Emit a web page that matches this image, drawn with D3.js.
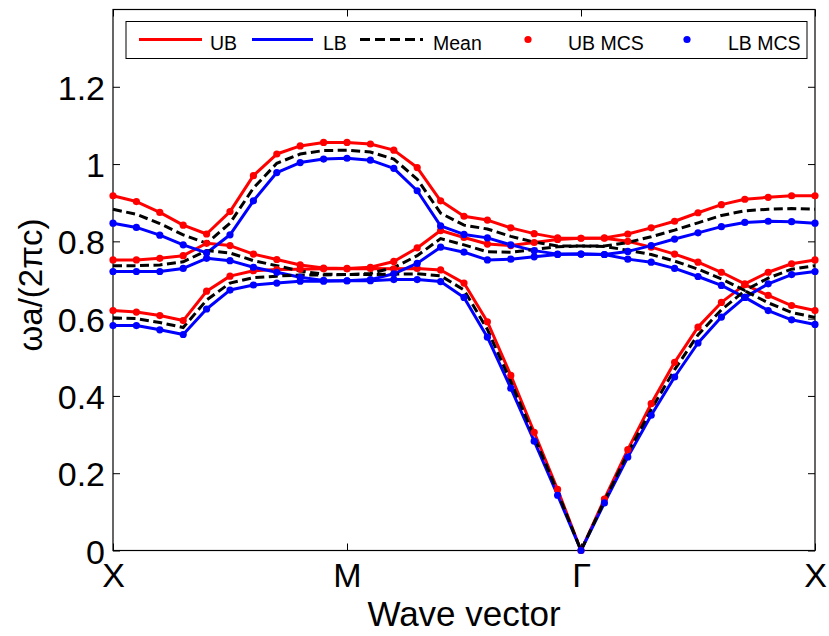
<!DOCTYPE html>
<html>
<head>
<meta charset="utf-8">
<script src="https://cdn.jsdelivr.net/npm/d3@7"></script>
<style>
  html, body { margin: 0; padding: 0; background: #fff; }
  svg { display: block; font-family: "Liberation Sans", Arial, Helvetica, sans-serif; }
</style>
</head>
<body>
<svg id="chart" width="829" height="636"></svg>
<script>
// Path through the Brillouin zone: X -> M -> Gamma -> X, 10 steps per leg
const kIndex = d3.range(31);
const kTickPos = [0, 10, 20, 30];
const kTickLabels = ["X", "M", "\u0393", "X"];
const yTicks = [0, 0.2, 0.4, 0.6, 0.8, 1, 1.2];

// Upper bound (UB) of the three lowest bands, omega*a/(2*pi*c)
const ub1 = [0.621, 0.617, 0.608, 0.595, 0.671, 0.710, 0.724, 0.727, 0.728, 0.729, 0.729,
             0.730, 0.729, 0.730, 0.726, 0.692, 0.592, 0.453, 0.306, 0.158, 0.000,
             0.133, 0.261, 0.380, 0.487, 0.578, 0.642, 0.688, 0.660, 0.634, 0.621];
const ub2 = [0.752, 0.752, 0.756, 0.763, 0.795, 0.789, 0.767, 0.753, 0.739, 0.731, 0.730,
             0.733, 0.748, 0.783, 0.828, 0.810, 0.793, 0.789, 0.797, 0.805, 0.808,
             0.808, 0.800, 0.785, 0.767, 0.746, 0.720, 0.690, 0.720, 0.742, 0.752];
const ub3 = [0.918, 0.903, 0.875, 0.842, 0.819, 0.877, 0.970, 1.026, 1.047, 1.056, 1.056,
             1.052, 1.036, 0.991, 0.905, 0.865, 0.855, 0.835, 0.820, 0.809, 0.808,
             0.809, 0.819, 0.835, 0.852, 0.874, 0.895, 0.909, 0.914, 0.918, 0.918];

// Lower bound (LB)
const lb1 = [0.582, 0.582, 0.571, 0.559, 0.625, 0.674, 0.687, 0.692, 0.697, 0.697, 0.698,
             0.698, 0.701, 0.701, 0.696, 0.655, 0.552, 0.420, 0.283, 0.143, 0.000,
             0.123, 0.242, 0.350, 0.449, 0.537, 0.604, 0.655, 0.621, 0.597, 0.585];
const lb2 = [0.722, 0.722, 0.722, 0.730, 0.756, 0.750, 0.733, 0.720, 0.707, 0.699, 0.698,
             0.701, 0.716, 0.743, 0.785, 0.772, 0.752, 0.754, 0.760, 0.766, 0.767,
             0.766, 0.754, 0.746, 0.730, 0.709, 0.686, 0.655, 0.690, 0.714, 0.722];
const lb3 = [0.847, 0.836, 0.816, 0.791, 0.770, 0.817, 0.905, 0.978, 1.004, 1.013, 1.015,
             1.010, 0.989, 0.931, 0.840, 0.818, 0.809, 0.791, 0.776, 0.767, 0.767,
             0.766, 0.774, 0.789, 0.806, 0.822, 0.838, 0.849, 0.852, 0.851, 0.847];

// Mean of the bounds
const mean1 = [0.602, 0.600, 0.590, 0.577, 0.648, 0.692, 0.706, 0.710, 0.713, 0.713, 0.714,
               0.714, 0.715, 0.716, 0.711, 0.674, 0.572, 0.437, 0.295, 0.151, 0.000,
               0.128, 0.252, 0.365, 0.468, 0.558, 0.623, 0.672, 0.641, 0.616, 0.603];
const mean2 = [0.737, 0.737, 0.739, 0.747, 0.776, 0.770, 0.750, 0.737, 0.723, 0.715, 0.714,
               0.717, 0.732, 0.763, 0.807, 0.791, 0.773, 0.772, 0.779, 0.786, 0.788,
               0.787, 0.777, 0.766, 0.749, 0.728, 0.703, 0.673, 0.705, 0.728, 0.737];
const mean3 = [0.883, 0.870, 0.846, 0.817, 0.795, 0.847, 0.938, 1.002, 1.026, 1.035, 1.036,
               1.031, 1.013, 0.961, 0.873, 0.842, 0.832, 0.813, 0.798, 0.788, 0.788,
               0.788, 0.797, 0.812, 0.829, 0.848, 0.867, 0.879, 0.883, 0.885, 0.883];

const ubBands = [ub1, ub2, ub3];
const lbBands = [lb1, lb2, lb3];
const meanBands = [mean1, mean2, mean3];

const legendLabels = ["UB", "LB", "Mean", "UB MCS", "LB MCS"];

const RED = "#ff0000", BLUE = "#0000ff", BLACK = "#000000";
const LW = 3, DOT_R = 3.6, DASH = "9,4.5";

const svg = d3.select("#chart");
const plotLeft = 113, plotRight = 815, plotTop = 9.5, plotBottom = 550.5;

const x = d3.scaleLinear().domain([0, 30]).range([plotLeft, plotRight]);
const y = d3.scaleLinear().domain([0, 1.4]).range([plotBottom, plotTop]);

const line = d3.line().x((d, i) => x(kIndex[i])).y(d => y(d));

// Axes with inward ticks (box style)
const tickFont = 34;
const gy = svg.append("g").attr("transform", `translate(${plotLeft},0)`)
  .call(d3.axisLeft(y).tickValues(yTicks).tickFormat(d => d3.format("~g")(d))
    .tickSizeInner(-7).tickSizeOuter(0).tickPadding(8));
gy.select(".domain").remove();
gy.selectAll("text").attr("dy", "0.37em").style("font-size", tickFont + "px").attr("fill", "#000");
gy.selectAll("line").attr("stroke", "#000");

const gyr = svg.append("g").attr("transform", `translate(${plotRight},0)`)
  .call(d3.axisRight(y).tickValues(yTicks).tickFormat("").tickSizeInner(-7).tickSizeOuter(0));
gyr.select(".domain").remove();
gyr.selectAll("line").attr("stroke", "#000");

const gx = svg.append("g").attr("transform", `translate(0,${plotBottom})`)
  .call(d3.axisBottom(x).tickValues(kTickPos).tickFormat((d, i) => kTickLabels[i])
    .tickSizeInner(-7).tickSizeOuter(0).tickPadding(12));
gx.select(".domain").remove();
gx.selectAll("text").style("font-size", tickFont + "px").attr("fill", "#000");
gx.selectAll("line").attr("stroke", "#000");

const gxt = svg.append("g").attr("transform", `translate(0,${plotTop})`)
  .call(d3.axisTop(x).tickValues(kTickPos).tickFormat("").tickSizeInner(-7).tickSizeOuter(0));
gxt.select(".domain").remove();
gxt.selectAll("line").attr("stroke", "#000");

// Plot box
svg.append("rect")
  .attr("x", plotLeft).attr("y", plotTop)
  .attr("width", plotRight - plotLeft).attr("height", plotBottom - plotTop)
  .attr("fill", "none").attr("stroke", "#000").attr("stroke-width", 1.2);

// Axis titles
svg.append("text")
  .attr("x", (plotLeft + plotRight) / 2).attr("y", 626)
  .attr("text-anchor", "middle")
  .style("font-size", "35px")
  .text("Wave vector");

svg.append("text")
  .attr("transform", `translate(42,${(plotTop + plotBottom) / 2 + 5}) rotate(-90)`)
  .attr("text-anchor", "middle")
  .style("font-size", "33px")
  .text("\u03c9a/(2\u03c0c)");

// Band curves
const plot = svg.append("g");
plot.selectAll("path.ub").data(ubBands).join("path")
  .attr("class", "ub").attr("d", line)
  .attr("fill", "none").attr("stroke", RED).attr("stroke-width", LW)
  .attr("stroke-linejoin", "round");
plot.selectAll("path.lb").data(lbBands).join("path")
  .attr("class", "lb").attr("d", line)
  .attr("fill", "none").attr("stroke", BLUE).attr("stroke-width", LW)
  .attr("stroke-linejoin", "round");
plot.selectAll("path.mean").data(meanBands).join("path")
  .attr("class", "mean").attr("d", line)
  .attr("fill", "none").attr("stroke", BLACK).attr("stroke-width", LW)
  .attr("stroke-dasharray", DASH);

// Monte Carlo samples as dots
ubBands.forEach(b => {
  plot.append("g").selectAll("circle").data(b).join("circle")
    .attr("cx", (d, i) => x(kIndex[i])).attr("cy", d => y(d))
    .attr("r", DOT_R).attr("fill", RED);
});
lbBands.forEach(b => {
  plot.append("g").selectAll("circle").data(b).join("circle")
    .attr("cx", (d, i) => x(kIndex[i])).attr("cy", d => y(d))
    .attr("r", DOT_R).attr("fill", BLUE);
});

// Legend
const lg = svg.append("g");
lg.append("rect").attr("x", 126).attr("y", 21.5).attr("width", 681).attr("height", 37)
  .attr("fill", "#fff").attr("stroke", "#000").attr("stroke-width", 1);
const ly = 39.5;
const legendItems = [
  { kind: "line", color: RED, x0: 139, x1: 202, tx: 210 },
  { kind: "line", color: BLUE, x0: 252, x1: 313, tx: 323 },
  { kind: "dash", color: BLACK, x0: 360, x1: 423, tx: 433 },
  { kind: "dot", color: RED, cx: 528, tx: 568 },
  { kind: "dot", color: BLUE, cx: 687, tx: 728 }
];
legendItems.forEach((it, i) => {
  if (it.kind === "dot") {
    lg.append("circle").attr("cx", it.cx).attr("cy", ly).attr("r", DOT_R).attr("fill", it.color);
  } else {
    lg.append("line").attr("x1", it.x0).attr("x2", it.x1).attr("y1", ly).attr("y2", ly)
      .attr("stroke", it.color).attr("stroke-width", LW)
      .attr("stroke-dasharray", it.kind === "dash" ? "10,5" : null);
  }
  lg.append("text").attr("x", it.tx).attr("y", 49.5)
    .style("font-size", "19.5px").text(legendLabels[i]);
});
</script>
</body>
</html>
